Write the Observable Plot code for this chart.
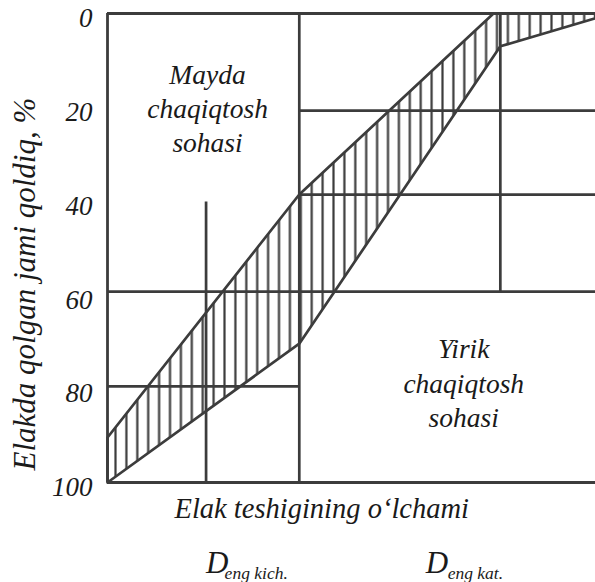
<!DOCTYPE html>
<html>
<head>
<meta charset="utf-8">
<script src="https://cdn.jsdelivr.net/npm/d3@7"></script>
<script src="https://cdn.jsdelivr.net/npm/@observablehq/plot@0.6"></script>
<style>
  html, body { margin: 0; padding: 0; background: #fff; }
  #chart svg { display: block; }
  #chart svg text { font-family: "Liberation Serif", "Times New Roman", serif !important; font-style: italic; }
</style>
</head>
<body>
<div id="chart"></div>
<script>
// ---- data ----
const yTicks = [0, 20, 40, 60, 80, 100];

// envelope of the grading zone: upper (fine) limit and lower (coarse) limit
const upperX = [0, 39.3, 79.1, 100];
const upperY = [90.4, 38.6, 0, 0];
const lowerX = [0, 39.3, 80.5, 100];
const lowerY = [100, 70.4, 7.0, 1.0];

// guide lines
const vLineX    = [20.2, 39.3, 80.5];
const vLineFrom = [40.2, 0, 0];
const vLineTo   = [100, 100, 59.3];
const hLineY    = [59.3, 79.5, 38.6, 20.7];
const hLineFrom = [0, 0, 39.3, 39.3];
const hLineTo   = [100, 39.3, 100, 100];

// texts
const zoneLabels = ["Mayda\nchaqiqtosh\nsohasi", "Yirik\nchaqiqtosh\nsohasi"];
const zoneX = [20.5, 73];
const zoneY = [19.9, 78.5];
const yLabel = "Elakda qolgan jami qoldiq, %";
const xLabel = "Elak teshigining o‘lchami";
const dLabels = ["D", "D"];
const dSubs = ["eng kich.", "eng kat."];
const dX = [20.2, 65.2];
const subX = [24.0, 69.7];

// ---- chart ----
const ink = "#3c3c3c";
const txt = "#1a1a1a";
const font = "Liberation Serif";

const polygon = [
  ...upperX.map((x, i) => ({x, y: upperY[i]})),
  ...lowerX.map((x, i) => ({x, y: lowerY[i]})).reverse()
];

const tOpts = {fontFamily: font, fontStyle: "italic", fill: txt};

const plot = Plot.plot({
  width: 595,
  height: 582,
  marginLeft: 107,
  marginRight: 0,
  marginTop: 13,
  marginBottom: 100,
  x: {domain: [0, 100], axis: null},
  y: {domain: [0, 100], reverse: true, axis: null},
  style: {fontFamily: font, fontStyle: "italic", fontSize: "27px", color: txt, background: "#fff", overflow: "visible"},
  marks: [
    Plot.line(polygon, {x: "x", y: "y", curve: "linear-closed", fill: "url(#hatch)", stroke: ink, strokeWidth: 2.7}),
    Plot.ruleX(vLineX, {x: d => d, y1: (d, i) => vLineFrom[i], y2: (d, i) => vLineTo[i], stroke: ink, strokeWidth: 2.7}),
    Plot.ruleY(hLineY, {y: d => d, x1: (d, i) => hLineFrom[i], x2: (d, i) => hLineTo[i], stroke: ink, strokeWidth: 2.7}),
    Plot.ruleX([0], {stroke: ink, strokeWidth: 2.8}),
    Plot.ruleY([0, 100], {stroke: ink, strokeWidth: 2.8}),
    Plot.axisY(yTicks, {tickSize: 0, tickPadding: 15, fontSize: 27, dy: 5, label: null, ...tOpts}),
    Plot.text(zoneLabels, {x: (d, i) => zoneX[i], y: (d, i) => zoneY[i], text: d => d, lineHeight: 1.24, fontSize: 27.5, ...tOpts}),
    Plot.text([yLabel], {x: () => -16.9, y: () => 57.7, text: d => d, rotate: -90, fontSize: 31, ...tOpts}),
    Plot.text([xLabel], {x: () => 43.9, y: () => 107.5, text: d => d, lineAnchor: "bottom", fontSize: 28.5, ...tOpts}),
    Plot.text(dLabels, {x: (d, i) => dX[i], y: () => 119.2, text: d => d, textAnchor: "start", lineAnchor: "bottom", fontSize: 31, ...tOpts}),
    Plot.text(dSubs, {x: (d, i) => subX[i], y: () => 120.5, text: d => d, textAnchor: "start", lineAnchor: "bottom", fontSize: 17.5, ...tOpts})
  ]
});

// vertical hatching used to fill the zone
const svg = d3.select(plot);
const defs = svg.insert("defs", ":first-child");
const pat = defs.append("pattern")
  .attr("id", "hatch")
  .attr("patternUnits", "userSpaceOnUse")
  .attr("x", 109.55).attr("y", 0)
  .attr("width", 10.9).attr("height", 20);
pat.append("rect").attr("width", 10.9).attr("height", 20).attr("fill", "#fff");
pat.append("line")
  .attr("x1", 5.45).attr("x2", 5.45).attr("y1", -1).attr("y2", 21)
  .attr("stroke", ink).attr("stroke-width", 2.2);

document.getElementById("chart").appendChild(plot);
</script>
</body>
</html>
